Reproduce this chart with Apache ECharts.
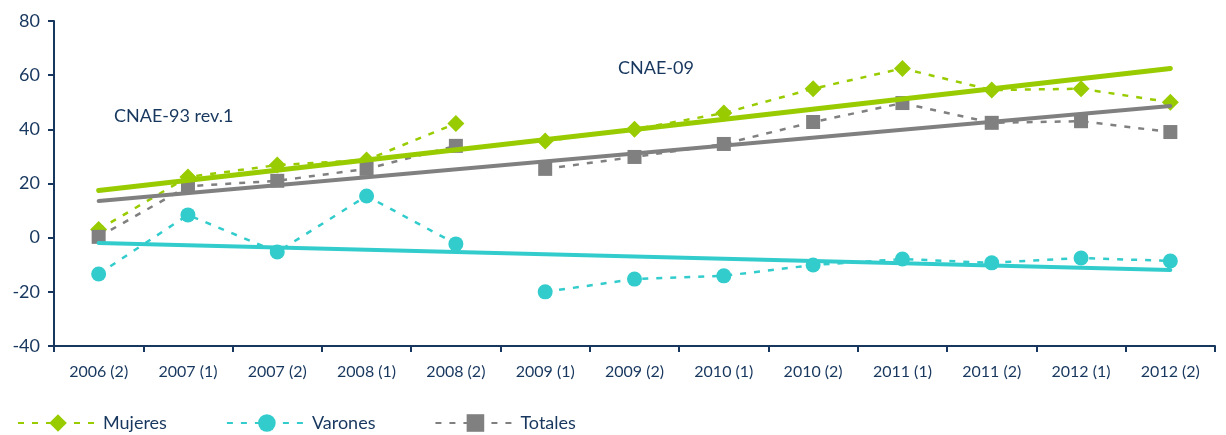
<!DOCTYPE html>
<html>
<head>
<meta charset="utf-8">
<script src="https://cdn.jsdelivr.net/npm/echarts@6/dist/echarts.min.js"></script>
<style>
  html, body { margin: 0; padding: 0; background: #fff; }
  #chart { width: 1226px; height: 435px; }
</style>
</head>
<body>
<div id="chart"></div>
<script>
const periodos = ['2006 (2)', '2007 (1)', '2007 (2)', '2008 (1)', '2008 (2)', '2009 (1)', '2009 (2)',
    '2010 (1)', '2010 (2)', '2011 (1)', '2011 (2)', '2012 (1)', '2012 (2)'];

// CNAE-93 rev.1 (2006-2008) y CNAE-09 (2009-2012)
const mujeres = [3, 22.4, 26.8, 28.7, 42.2, 35.7, 40, 46, 55, 62.5, 54.5, 55, 50];
const varones = [-13.4, 8.4, -5.3, 15.4, -2.3, -20, -15.3, -14.1, -10.1, -7.9, -9.3, -7.5, -8.6];
const totales = [0.3, 19, 21, 25.4, 33.9, 25.4, 29.8, 34.6, 42.7, 49.7, 42.4, 43, 39];

// tendencias: valor inicial y final
const tendMujeres = [17.4, 62.5];
const tendVarones = [-2, -11.9];
const tendTotales = [13.5, 48.6];

const corte = 5; // primer periodo CNAE-09

const colores = { Mujeres: '#99cc00', Varones: '#33cccc', Totales: '#808080' };
const simbolos = { Mujeres: ['diamond', 17], Varones: ['circle', 15], Totales: ['rect', 14] };
const navy = '#17375e';
const fuente = 'Lato, sans-serif';

function tramo(valores, desde, hasta) {
    return valores.map((v, i) => (i >= desde && i < hasta ? v : '-'));
}

function serieDatos(nombre, valores) {
    const base = {
        name: nombre,
        type: 'line',
        symbol: simbolos[nombre][0],
        symbolSize: simbolos[nombre][1],
        showAllSymbol: true,
        itemStyle: { color: colores[nombre] },
        lineStyle: { color: colores[nombre], width: 2.5, type: [6, 8] },
        z: 3
    };
    return [
        Object.assign({}, base, { data: tramo(valores, 0, corte) }),
        Object.assign({}, base, { data: tramo(valores, corte, valores.length) })
    ];
}

function serieTendencia(nombre, extremos, ancho) {
    return {
        name: nombre + ' tendencia',
        type: 'line',
        symbol: 'none',
        silent: true,
        lineStyle: { color: colores[nombre], width: ancho, cap: 'round' },
        data: [[periodos[0], extremos[0]], [periodos[periodos.length - 1], extremos[1]]],
        z: 4
    };
}

const myChart = echarts.init(document.getElementById('chart'));

const option = {
    animation: false,
    textStyle: { fontFamily: fuente },
    grid: { left: 54, right: 11, top: 21, bottom: 89 },
    legend: {
        data: ['Mujeres', 'Varones', 'Totales'],
        left: 17,
        top: 414,
        padding: 0,
        itemWidth: 80,
        itemHeight: 22,
        itemGap: 59,
        textStyle: { color: navy, fontSize: 18, fontFamily: fuente }
    },
    xAxis: {
        type: 'category',
        data: periodos,
        boundaryGap: true,
        axisLine: { onZero: false, lineStyle: { color: navy, width: 2 } },
        axisTick: { show: true, length: 6, lineStyle: { color: navy, width: 2 } },
        axisLabel: { color: navy, fontSize: 16, margin: 18, interval: 0 },
        splitLine: { show: false }
    },
    yAxis: {
        type: 'value',
        min: -40,
        max: 80,
        interval: 20,
        axisLine: { show: true, lineStyle: { color: navy, width: 2 } },
        axisTick: { show: true, length: 6, lineStyle: { color: navy, width: 2 } },
        axisLabel: { color: navy, fontSize: 18, margin: 14 },
        splitLine: { show: false }
    },
    graphic: [
        { type: 'text', left: 114, top: 107, style: { text: 'CNAE-93 rev.1', fill: navy, font: '18px Lato, sans-serif' } },
        { type: 'text', left: 618, top: 59, style: { text: 'CNAE-09', fill: navy, font: '18px Lato, sans-serif' } }
    ],
    series: [
        ...serieDatos('Mujeres', mujeres),
        ...serieDatos('Varones', varones),
        ...serieDatos('Totales', totales),
        serieTendencia('Mujeres', tendMujeres, 5),
        serieTendencia('Totales', tendTotales, 4),
        serieTendencia('Varones', tendVarones, 4)
    ]
};

option && myChart.setOption(option);
</script>
</body>
</html>
